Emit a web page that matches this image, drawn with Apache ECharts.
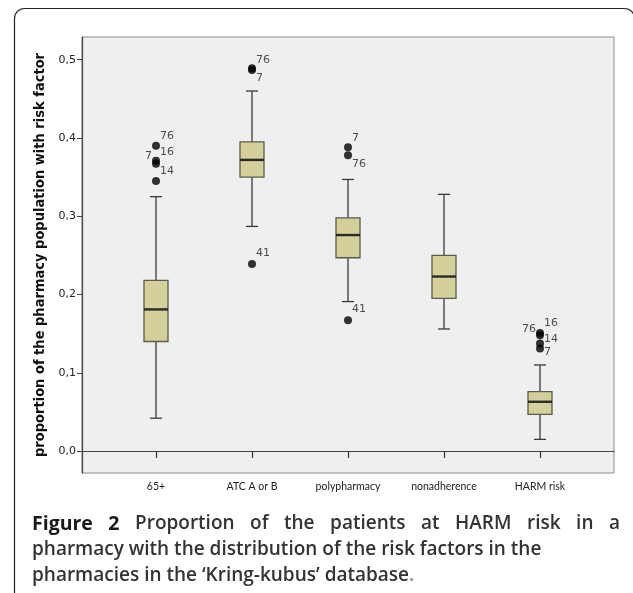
<!DOCTYPE html>
<html>
<head>
<meta charset="utf-8">
<script src="https://cdn.jsdelivr.net/npm/echarts@6.0.0/dist/echarts.min.js"></script>
<style>
  html, body { margin: 0; padding: 0; background: #fff; }
  #chart { width: 633px; height: 593px; }
</style>
</head>
<body>
<div id="chart"></div>
<script>
// categories and box statistics
const categories = ["65+", "ATC A or B", "polypharmacy", "nonadherence", "HARM risk"];
const whiskerLow = [0.042, 0.287, 0.191, 0.156, 0.015];
const q1 = [0.140, 0.350, 0.247, 0.195, 0.047];
const median = [0.181, 0.372, 0.276, 0.223, 0.063];
const q3 = [0.218, 0.395, 0.298, 0.250, 0.076];
const whiskerHigh = [0.325, 0.460, 0.347, 0.328, 0.110];

// outliers: category index, value, case id
const outlierCat = [0, 0, 0, 0, 1, 1, 1, 2, 2, 2, 4, 4, 4, 4];
const outlierValue = [0.390, 0.371, 0.367, 0.345, 0.489, 0.487, 0.239, 0.388, 0.378, 0.167, 0.151, 0.148, 0.1375, 0.131];
const outlierId = ["76", "16", "7", "14", "76", "7", "41", "7", "76", "41", "16", "76", "14", "7"];

const yTicks = [0, 0.1, 0.2, 0.3, 0.4, 0.5];

// label placement for the case ids (side, vertical shift)
const idSide = ["right", "right", "left", "right", "right", "right", "right", "right", "right", "right", "right", "left", "right", "right"];
const idShift = [-10, -9, -8, -10, -8, 8, -11, -9, 9, -11, -10, -6, -4, 4];

const yMin = -0.028, yMax = 0.529;

const chart = echarts.init(document.getElementById("chart"));

const boxData = categories.map((c, i) => [i, whiskerLow[i], q1[i], median[i], q3[i], whiskerHigh[i]]);
const outlierData = outlierValue.map((v, i) => ({
  value: [outlierCat[i], v],
  label: {
    show: true,
    formatter: outlierId[i],
    position: idSide[i],
    distance: 0,
    offset: [0, idShift[i]]
  }
}));

function renderBox(params, api) {
  const x = api.value(0);
  const lo = api.coord([x, api.value(1)]);
  const b1 = api.coord([x, api.value(2)]);
  const md = api.coord([x, api.value(3)]);
  const b3 = api.coord([x, api.value(4)]);
  const hi = api.coord([x, api.value(5)]);
  const cx = lo[0];
  const bw = 12, cw = 6;
  const ln = { stroke: "#3a3a3a", lineWidth: 1.3 };
  return {
    type: "group",
    children: [
      { type: "line", shape: { x1: cx, y1: lo[1], x2: cx, y2: b1[1] }, style: ln },
      { type: "line", shape: { x1: cx, y1: b3[1], x2: cx, y2: hi[1] }, style: ln },
      { type: "line", shape: { x1: cx - cw, y1: lo[1], x2: cx + cw, y2: lo[1] }, style: ln },
      { type: "line", shape: { x1: cx - cw, y1: hi[1], x2: cx + cw, y2: hi[1] }, style: ln },
      { type: "rect", shape: { x: cx - bw, y: b3[1], width: bw * 2, height: b1[1] - b3[1] },
        style: { fill: "#d5d09b", stroke: "#5b5b4c", lineWidth: 1.3 } },
      { type: "line", shape: { x1: cx - bw, y1: md[1], x2: cx + bw, y2: md[1] },
        style: { stroke: "#2b2b22", lineWidth: 2.4 } }
    ]
  };
}

// caption: first line is justified between 32 and 620
const capFont = "'Open Sans', 'DejaVu Sans', sans-serif";
const capColor = "#333";
const boldFont = "bold 19.5px " + capFont;
const regFont = "600 19px " + capFont;
const line1 = [["Figure", true], ["2", true], ["Proportion"], ["of"], ["the"],
  ["patients"], ["at"], ["HARM"], ["risk"], ["in"], ["a"]];
const ctx = document.createElement("canvas").getContext("2d");
const widths = line1.map(w => { ctx.font = w[1] ? boldFont : regFont; return ctx.measureText(w[0]).width; });
const gap = (620 - 32 - widths.reduce((a, b) => a + b, 0)) / (line1.length - 1);
let cursor = 32;
const line1Graphics = line1.map((w, i) => {
  const g = { type: "text", left: cursor, top: 514,
    style: { text: w[0], font: w[1] ? boldFont : regFont, fill: w[1] ? "#1a1a1a" : capColor } };
  cursor += widths[i] + gap;
  return g;
});

const option = {
  animation: false,
  backgroundColor: "#fff",
  grid: [
    { left: 82, top: 37, width: 532, height: 436, show: true, backgroundColor: "#efefef", borderColor: "#8a8a8a", borderWidth: 1 },
    { left: 108, top: 37, width: 480, height: 436 }
  ],
  xAxis: [
    { gridIndex: 0, type: "value", min: 0, max: 1, axisLine: { show: true, lineStyle: { color: "#444", width: 1.2 } },
      axisTick: { show: false }, axisLabel: { show: false }, splitLine: { show: false } },
    { gridIndex: 1, type: "category", data: categories, boundaryGap: true,
      axisLine: { show: false },
      axisTick: { show: true, alignWithLabel: true, length: 7, lineStyle: { color: "#333", width: 1.2 } },
      axisLabel: { color: "#222", fontSize: 10.5, fontFamily: "Lato, 'DejaVu Sans', sans-serif", margin: 8 },
      splitLine: { show: false } }
  ],
  yAxis: [
    { gridIndex: 0, type: "value", min: yMin, max: yMax,
      name: "proportion of the pharmacy population with risk factor",
      nameLocation: "middle", nameRotate: 90, nameGap: 27,
      nameTextStyle: { color: "#111", fontSize: 14.5, fontWeight: "bold", fontFamily: "'DejaVu Sans Condensed', 'DejaVu Sans', sans-serif" },
      axisLine: { show: true, lineStyle: { color: "#444", width: 1.2 } },
      axisTick: { show: true, length: 5, customValues: yTicks, lineStyle: { color: "#444" } },
      axisLabel: { customValues: yTicks, margin: 6, color: "#222", fontSize: 11, fontFamily: "'DejaVu Sans', sans-serif",
        formatter: v => v.toFixed(1).replace(".", ",") },
      splitLine: { show: false } },
    { gridIndex: 1, type: "value", min: yMin, max: yMax, show: false }
  ],
  series: [
    { type: "custom", xAxisIndex: 1, yAxisIndex: 1, renderItem: renderBox, data: boxData, z: 2 },
    { type: "scatter", xAxisIndex: 1, yAxisIndex: 1, data: outlierData, symbol: "circle", symbolSize: 8,
      itemStyle: { color: "#000" },
      label: { color: "#222", fontSize: 11, fontFamily: "'DejaVu Sans', sans-serif" }, z: 3 }
  ],
  graphic: [
    { type: "rect", shape: { x: 14.5, y: 8.5, width: 620, height: 640, r: 10 },
      style: { fill: "none", stroke: "#222", lineWidth: 1.2 }, z: 0, silent: true },
    ...line1Graphics,
    { type: "text", left: 32, top: 540,
      style: { text: "pharmacy with the distribution of the risk factors in the", font: regFont, fill: capColor } },
    { type: "text", left: 32, top: 566,
      style: { text: "pharmacies in the \u2018Kring-kubus\u2019 database{d|.}", font: regFont, fill: capColor,
        rich: { d: { fill: "#888", font: regFont } } } }
  ]
};

chart.setOption(option);
</script>
</body>
</html>
